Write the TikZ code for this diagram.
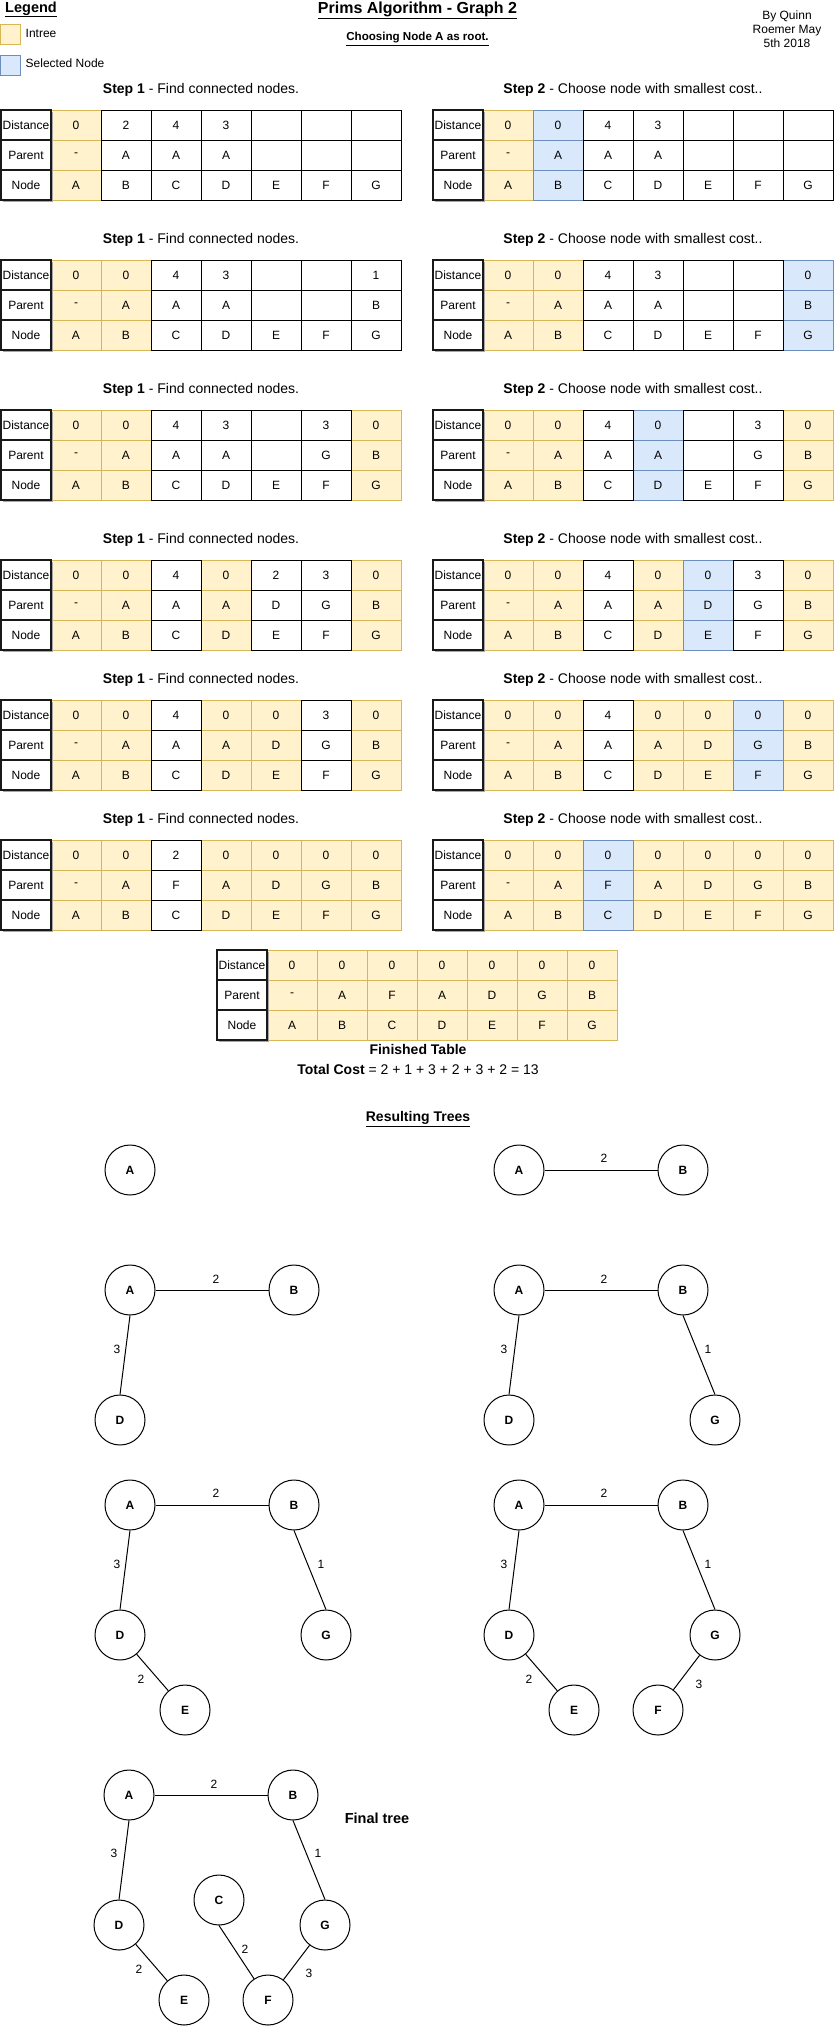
\documentclass[tikz,border=0pt]{standalone}
\usepackage{fontspec}
\setmainfont{Liberation Sans}
\usepackage{ifthen}
\definecolor{ylFill}{HTML}{FFF2CC}
\definecolor{ylLine}{HTML}{D6B656}
\definecolor{blFill}{HTML}{DAE8FC}
\definecolor{blLine}{HTML}{6C8EBF}
\tikzset{
  cellbase/.style={rectangle, minimum width=50pt, minimum height=30pt, inner sep=0pt, font=\fontsize{12}{14}\selectfont, line width=1pt},
  celly/.style={cellbase, fill=ylFill, draw=ylLine},
  cellb/.style={cellbase, fill=blFill, draw=blLine},
  cellw/.style={cellbase, fill=white, draw=black},
  headcell/.style={cellbase, fill=white, draw=black!90, line width=2pt},
  steptitle/.style={inner sep=0pt, font=\fontsize{14}{16}\selectfont},
  tnode/.style={circle, draw=black, line width=1pt, minimum size=50pt, inner sep=0pt, font=\bfseries\fontsize{12}{14}\selectfont},
  tedge/.style={line width=1pt, draw=black},
  elabel/.style={inner sep=0pt, font=\fontsize{12}{14}\selectfont},
  plaintext/.style={inner sep=0pt, font=\fontsize{12}{14}\selectfont},
  legbox/.style={rectangle, minimum width=20pt, minimum height=20pt, inner sep=0pt, line width=1pt}
}
\newcommand\cellpass[5]{%
  \foreach \s/\d/\p/\n [count=\i] in {#5} {
    \ifthenelse{\equal{\s}{#4}}{%
      \node[cell#4] (#1d\i) at ({#2+50*\i+25},{#3+15}) {\d};
      \node[cell#4] (#1p\i) at ({#2+50*\i+25},{#3+45}) {\p};
      \node[cell#4] (#1n\i) at ({#2+50*\i+25},{#3+75}) {\n};
    }{}
  }
}
\newcommand\ptable[4]{%
  \cellpass{#1}{#2}{#3}{y}{#4}
  \cellpass{#1}{#2}{#3}{b}{#4}
  \cellpass{#1}{#2}{#3}{w}{#4}
  \fill[black!35] ({#2+1.5},{#3+1.5}) rectangle ({#2+51.5},{#3+91.5});
  \node[headcell] (#1h1) at ({#2+25},{#3+15}) {Distance};
  \node[headcell] (#1h2) at ({#2+25},{#3+45}) {Parent};
  \node[headcell] (#1h3) at ({#2+25},{#3+75}) {Node};
}
\begin{document}
\begin{tikzpicture}[x=1pt,y=-1pt]
\useasboundingbox (0,0) rectangle (834,2026);
\fill[white] (0,0) rectangle (834,2026);

% header / legend
\node[inner sep=0pt, font=\bfseries\fontsize{14.5}{16}\selectfont] (legend) at (31,9.5) {\underline{Legend}};
\node[legbox, fill=ylFill, draw=ylLine] (legy) at (10.5,35) {};
\node[plaintext, anchor=west] (legyt) at (25.5,33.5) {Intree};
\node[legbox, fill=blFill, draw=blLine] (legb) at (10.5,65.5) {};
\node[plaintext, anchor=west] (legbt) at (25.5,63.5) {Selected Node};
\node[inner sep=0pt, font=\bfseries\fontsize{16}{18}\selectfont] (title) at (417.5,10) {\underline{Prims Algorithm - Graph 2}};
\node[inner sep=0pt, font=\bfseries\fontsize{11.6}{14}\selectfont] (sub) at (417.5,39) {\underline{Choosing Node A as root.}};
\node[plaintext, align=center] (author) at (787,29) {By Quinn\\Roemer May\\5th 2018};

% step titles
\foreach \yy [count=\k] in {90,240,390,540,680,820} {
  \node[steptitle] (s1t\k) at (201,\yy) {\textbf{Step 1} - Find connected nodes.};
  \node[steptitle] (s2t\k) at (633,\yy) {\textbf{Step 2} - Choose node with smallest cost..};
}

% tables
\ptable{La}{1}{110}{y/0/-/A,w/2/A/B,w/4/A/C,w/3/A/D,w///E,w///F,w///G}
\ptable{Ra}{433}{110}{y/0/-/A,b/0/A/B,w/4/A/C,w/3/A/D,w///E,w///F,w///G}
\ptable{Lb}{1}{260}{y/0/-/A,y/0/A/B,w/4/A/C,w/3/A/D,w///E,w///F,w/1/B/G}
\ptable{Rb}{433}{260}{y/0/-/A,y/0/A/B,w/4/A/C,w/3/A/D,w///E,w///F,b/0/B/G}
\ptable{Lc}{1}{410}{y/0/-/A,y/0/A/B,w/4/A/C,w/3/A/D,w///E,w/3/G/F,y/0/B/G}
\ptable{Rc}{433}{410}{y/0/-/A,y/0/A/B,w/4/A/C,b/0/A/D,w///E,w/3/G/F,y/0/B/G}
\ptable{Ld}{1}{560}{y/0/-/A,y/0/A/B,w/4/A/C,y/0/A/D,w/2/D/E,w/3/G/F,y/0/B/G}
\ptable{Rd}{433}{560}{y/0/-/A,y/0/A/B,w/4/A/C,y/0/A/D,b/0/D/E,w/3/G/F,y/0/B/G}
\ptable{Le}{1}{700}{y/0/-/A,y/0/A/B,w/4/A/C,y/0/A/D,y/0/D/E,w/3/G/F,y/0/B/G}
\ptable{Re}{433}{700}{y/0/-/A,y/0/A/B,w/4/A/C,y/0/A/D,y/0/D/E,b/0/G/F,y/0/B/G}
\ptable{Lf}{1}{840}{y/0/-/A,y/0/A/B,w/2/F/C,y/0/A/D,y/0/D/E,y/0/G/F,y/0/B/G}
\ptable{Rf}{433}{840}{y/0/-/A,y/0/A/B,b/0/F/C,y/0/A/D,y/0/D/E,y/0/G/F,y/0/B/G}
\ptable{Fin}{217}{950}{y/0/-/A,y/0/A/B,y/0/F/C,y/0/A/D,y/0/D/E,y/0/G/F,y/0/B/G}

\node[inner sep=0pt, font=\bfseries\fontsize{14}{16}\selectfont] (fint) at (418,1049) {Finished Table};
\node[inner sep=0pt, font=\fontsize{14}{16}\selectfont] (cost) at (418,1069) {\textbf{Total Cost} = 2 + 1 + 3 + 2 + 3 + 2 = 13};
\node[inner sep=0pt, font=\bfseries\fontsize{14}{16}\selectfont] (restr) at (418,1119) {\underline{Resulting Trees}};

% tree 1
\node[tnode] (t1a) at (130,1170) {A};

% tree 2
\node[tnode] (t2a) at (519,1170) {A};
\node[tnode] (t2b) at (683,1170) {B};
\draw[tedge] (t2a) -- (t2b);
\node[elabel] (t2l1) at (604,1158) {2};

% tree 3
\node[tnode] (t3a) at (130,1290) {A};
\node[tnode] (t3b) at (294,1290) {B};
\node[tnode] (t3d) at (120,1420) {D};
\draw[tedge] (t3a) -- (t3b);
\draw[tedge] (t3a.south) -- (t3d.north);
\node[elabel] (t3l1) at (216,1279) {2};
\node[elabel] (t3l2) at (117,1349) {3};

% tree 4
\node[tnode] (t4a) at (519,1290) {A};
\node[tnode] (t4b) at (683,1290) {B};
\node[tnode] (t4d) at (509,1420) {D};
\node[tnode] (t4g) at (715,1420) {G};
\draw[tedge] (t4a) -- (t4b);
\draw[tedge] (t4a.south) -- (t4d.north);
\draw[tedge] (t4b.south) -- (t4g.north);
\node[elabel] (t4l1) at (604,1279) {2};
\node[elabel] (t4l2) at (504,1349) {3};
\node[elabel] (t4l3) at (708,1349) {1};

% tree 5
\node[tnode] (t5a) at (130,1505) {A};
\node[tnode] (t5b) at (294,1505) {B};
\node[tnode] (t5d) at (120,1635) {D};
\node[tnode] (t5g) at (326,1635) {G};
\node[tnode] (t5e) at (185,1710) {E};
\draw[tedge] (t5a) -- (t5b);
\draw[tedge] (t5a.south) -- (t5d.north);
\draw[tedge] (t5b.south) -- (t5g.north);
\draw[tedge] (t5d) -- (t5e);
\node[elabel] (t5l1) at (216,1493) {2};
\node[elabel] (t5l2) at (117,1564) {3};
\node[elabel] (t5l3) at (321,1564) {1};
\node[elabel] (t5l4) at (141,1679) {2};

% tree 6
\node[tnode] (t6a) at (519,1505) {A};
\node[tnode] (t6b) at (683,1505) {B};
\node[tnode] (t6d) at (509,1635) {D};
\node[tnode] (t6g) at (715,1635) {G};
\node[tnode] (t6e) at (574,1710) {E};
\node[tnode] (t6f) at (658,1710) {F};
\draw[tedge] (t6a) -- (t6b);
\draw[tedge] (t6a.south) -- (t6d.north);
\draw[tedge] (t6b.south) -- (t6g.north);
\draw[tedge] (t6d) -- (t6e);
\draw[tedge] (t6g) -- (t6f);
\node[elabel] (t6l1) at (604,1493) {2};
\node[elabel] (t6l2) at (504,1564) {3};
\node[elabel] (t6l3) at (708,1564) {1};
\node[elabel] (t6l4) at (529,1679) {2};
\node[elabel] (t6l5) at (699,1684) {3};

% tree 7 (final)
\node[tnode] (t7a) at (129,1795) {A};
\node[tnode] (t7b) at (293,1795) {B};
\node[tnode] (t7d) at (119,1925) {D};
\node[tnode] (t7g) at (325,1925) {G};
\node[tnode] (t7c) at (219,1900) {C};
\node[tnode] (t7e) at (184,2000) {E};
\node[tnode] (t7f) at (268,2000) {F};
\draw[tedge] (t7a) -- (t7b);
\draw[tedge] (t7a.south) -- (t7d.north);
\draw[tedge] (t7b.south) -- (t7g.north);
\draw[tedge] (t7d) -- (t7e);
\draw[tedge] (t7c.south) -- (t7f);
\draw[tedge] (t7g) -- (t7f);
\node[elabel] (t7l1) at (214,1784) {2};
\node[elabel] (t7l2) at (114,1853) {3};
\node[elabel] (t7l3) at (318,1853) {1};
\node[elabel] (t7l4) at (139,1969) {2};
\node[elabel] (t7l5) at (245,1949) {2};
\node[elabel] (t7l6) at (309,1973) {3};
\node[inner sep=0pt, font=\bfseries\fontsize{14.5}{16}\selectfont] (final) at (377,1818) {Final tree};
\end{tikzpicture}
\end{document}
